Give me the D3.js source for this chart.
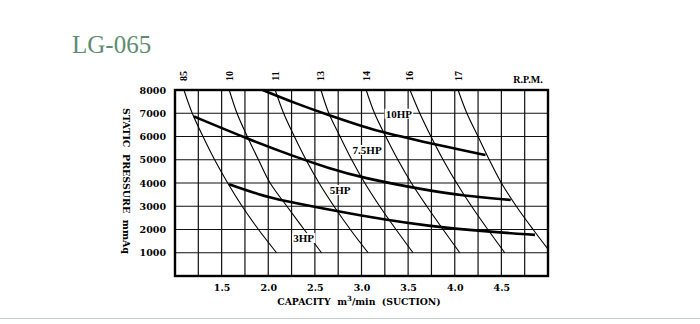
<!DOCTYPE html>
<html>
<head>
<meta charset="utf-8">
<script src="https://cdn.jsdelivr.net/npm/d3@7/dist/d3.min.js"></script>
<style>
  html, body { margin: 0; padding: 0; background: #fff; }
  svg { display: block; }
</style>
</head>
<body>
<svg id="chart" width="700" height="324"></svg>
<script>
// ---------------- DATA ----------------
const chartTitle = "LG-065";
const yTickValues = [1000, 2000, 3000, 4000, 5000, 6000, 7000, 8000];
const xTickValues = [1.5, 2.0, 2.5, 3.0, 3.5, 4.0, 4.5];

// RPM (thin) lines: capacity read at each pressure level
const rpmLabels = ["85", "10", "11", "13", "14", "16", "17"];
const rpmPressure = [8000, 7000, 6000, 5000, 4000, 3000, 2000, 1000];
const rpm85 = [1.096, 1.185, 1.300, 1.425, 1.565, 1.720, 1.895, 2.089];
const rpm10 = [1.582, 1.665, 1.775, 1.895, 2.020, 2.200, 2.385, 2.571];
const rpm11 = [2.075, 2.165, 2.280, 2.405, 2.545, 2.705, 2.880, 3.071];
const rpm13 = [2.565, 2.650, 2.770, 2.895, 3.035, 3.195, 3.370, 3.553];
const rpm14 = [3.050, 3.140, 3.260, 3.390, 3.535, 3.700, 3.875, 4.054];
const rpm16 = [3.520, 3.625, 3.745, 3.875, 4.020, 4.180, 4.355, 4.536];
const rpm17 = [4.036, 4.130, 4.250, 4.370, 4.500, 4.660, 4.840, 5.030];

// Power (thick) curves: capacity / pressure
const hp10Capacity = [1.94, 2.29, 2.66, 3.00, 3.25, 3.68, 4.00, 4.33];
const hp10Pressure = [8000, 7430, 6900, 6450, 6150, 5760, 5480, 5200];
const hp75Capacity = [1.204, 1.80, 2.30, 2.65, 3.00, 3.68, 4.09, 4.60];
const hp75Pressure = [6860, 5860, 5110, 4640, 4230, 3700, 3455, 3270];
const hp5Capacity = [1.58, 1.90, 2.16, 2.75, 3.25, 3.68, 4.34, 4.86];
const hp5Pressure = [3950, 3500, 3240, 2780, 2420, 2170, 1910, 1770];

const hpLabels = ["10HP", "7.5HP", "5HP", "3HP"];
const hpLabelCapacity = [3.40, 3.06, 2.77, 2.38];
const hpLabelPressure = [6980, 5420, 3700, 1630];

// ---------------- CHART ----------------
const svg = d3.select("#chart");
const serif = "'DejaVu Serif', 'Liberation Serif', serif";
const serif2 = "'Liberation Serif', 'DejaVu Serif', serif";

const x = d3.scaleLinear().domain([1.0, 5.0]).range([175, 548]);
const y = d3.scaleLinear().domain([0, 8000]).range([276, 90]);

// Title
svg.append("text")
  .attr("x", 72).attr("y", 53)
  .attr("font-family", serif2)
  .attr("font-size", 25)
  .attr("fill", "#5e8c70")
  .text(chartTitle);

// bottom separator
svg.append("line")
  .attr("x1", 0).attr("x2", 700).attr("y1", 318.5).attr("y2", 318.5)
  .attr("stroke", "#c9cfc9").attr("stroke-width", 1);

const plot = svg.append("g");

// Grid
const vGrid = d3.range(1.25, 5.0, 0.25);
plot.append("g").selectAll("line").data(vGrid).join("line")
  .attr("x1", d => x(d)).attr("x2", d => x(d))
  .attr("y1", y(8000)).attr("y2", y(0))
  .attr("stroke", "#111").attr("stroke-width", 1.2);
plot.append("g").selectAll("line").data(yTickValues.filter(v => v < 8000)).join("line")
  .attr("x1", x(1)).attr("x2", x(5))
  .attr("y1", d => y(d)).attr("y2", d => y(d))
  .attr("stroke", "#111").attr("stroke-width", 1.2);

// Clip
svg.append("clipPath").attr("id", "clip")
  .append("rect").attr("x", x(1)).attr("y", y(8000))
  .attr("width", x(5) - x(1)).attr("height", y(0) - y(8000));

// RPM lines
const rpmSeries = [rpm85, rpm10, rpm11, rpm13, rpm14, rpm16, rpm17];
const rpmLine = d3.line()
  .x(d => x(d[0])).y(d => y(d[1]))
  .curve(d3.curveCatmullRom.alpha(0.5));
plot.append("g").attr("clip-path", "url(#clip)")
  .selectAll("path").data(rpmSeries).join("path")
  .attr("d", s => rpmLine(s.map((c, i) => [c, rpmPressure[i]])))
  .attr("fill", "none").attr("stroke", "#000").attr("stroke-width", 1.1);

// HP curves
const hpSeries = [
  hp10Capacity.map((c, i) => [c, hp10Pressure[i]]),
  hp75Capacity.map((c, i) => [c, hp75Pressure[i]]),
  hp5Capacity.map((c, i) => [c, hp5Pressure[i]])
];
const hpLine = d3.line()
  .x(d => x(d[0])).y(d => y(d[1]))
  .curve(d3.curveBasis);
plot.append("g").attr("clip-path", "url(#clip)")
  .selectAll("path").data(hpSeries).join("path")
  .attr("d", hpLine)
  .attr("fill", "none").attr("stroke", "#000").attr("stroke-width", 2.6);

// HP labels with white backgrounds
const hpG = plot.append("g");
hpLabels.forEach((lab, i) => {
  const g = hpG.append("g");
  const t = g.append("text")
    .attr("x", x(hpLabelCapacity[i])).attr("y", y(hpLabelPressure[i]))
    .attr("text-anchor", "middle").attr("dominant-baseline", "central")
    .attr("font-family", serif2).attr("font-weight", "bold")
    .attr("font-size", 11).attr("fill", "#000")
    .text(lab);
  const bb = t.node().getBBox();
  g.insert("rect", "text")
    .attr("x", bb.x - 1).attr("y", bb.y + 1)
    .attr("width", bb.width + 2).attr("height", bb.height - 2)
    .attr("fill", "#fff");
});

// Frame
plot.append("rect")
  .attr("x", x(1)).attr("y", y(8000))
  .attr("width", x(5) - x(1)).attr("height", y(0) - y(8000))
  .attr("fill", "none").attr("stroke", "#000").attr("stroke-width", 2.4);

// Y axis labels
const yAxis = d3.axisLeft(y).tickValues(yTickValues).tickSize(0).tickPadding(9)
  .tickFormat(d3.format("d"));
const yg = svg.append("g").attr("transform", `translate(${x(1)},0)`).call(yAxis);
yg.select(".domain").remove();
yg.selectAll("text").attr("font-family", serif).attr("font-weight", "bold")
  .attr("font-size", 9.5).attr("fill", "#000");

// X axis labels
const xAxis = d3.axisBottom(x).tickValues(xTickValues).tickSize(0).tickPadding(8)
  .tickFormat(d3.format(".1f"));
const xg = svg.append("g").attr("transform", `translate(0,${y(0)})`).call(xAxis);
xg.select(".domain").remove();
xg.selectAll("text").attr("font-family", serif).attr("font-weight", "bold")
  .attr("font-size", 9.5).attr("fill", "#000");

// X title
const xt = svg.append("text")
  .attr("x", 359).attr("y", 305)
  .attr("text-anchor", "middle")
  .attr("font-family", serif).attr("font-weight", "bold")
  .attr("font-size", 9.3).attr("fill", "#000")
  .attr("xml:space", "preserve");
xt.append("tspan").text("CAPACITY  m");
xt.append("tspan").attr("dy", -4).attr("font-size", 7).text("3");
xt.append("tspan").attr("dy", 4).text("/min  (SUCTION)");

// Y title
svg.append("text")
  .attr("transform", "translate(126,181) rotate(90)")
  .attr("text-anchor", "middle").attr("dominant-baseline", "central")
  .attr("font-family", serif).attr("font-weight", "bold")
  .attr("font-size", 9.5).attr("fill", "#000")
  .attr("xml:space", "preserve")
  .text("STATIC  PRESSURE  mmAq");

// RPM top labels
svg.append("g").selectAll("text").data(rpmSeries).join("text")
  .attr("transform", (s, i) => `translate(${x(s[0])},76) rotate(-90)`)
  .attr("text-anchor", "middle").attr("dominant-baseline", "central")
  .attr("font-family", serif2).attr("font-weight", "bold")
  .attr("font-size", 10).attr("fill", "#000")
  .text((s, i) => rpmLabels[i]);

svg.append("text")
  .attr("x", 528).attr("y", 83)
  .attr("text-anchor", "middle")
  .attr("font-family", serif2).attr("font-weight", "bold")
  .attr("font-size", 10).attr("fill", "#000")
  .text("R.P.M.");
</script>
</body>
</html>
